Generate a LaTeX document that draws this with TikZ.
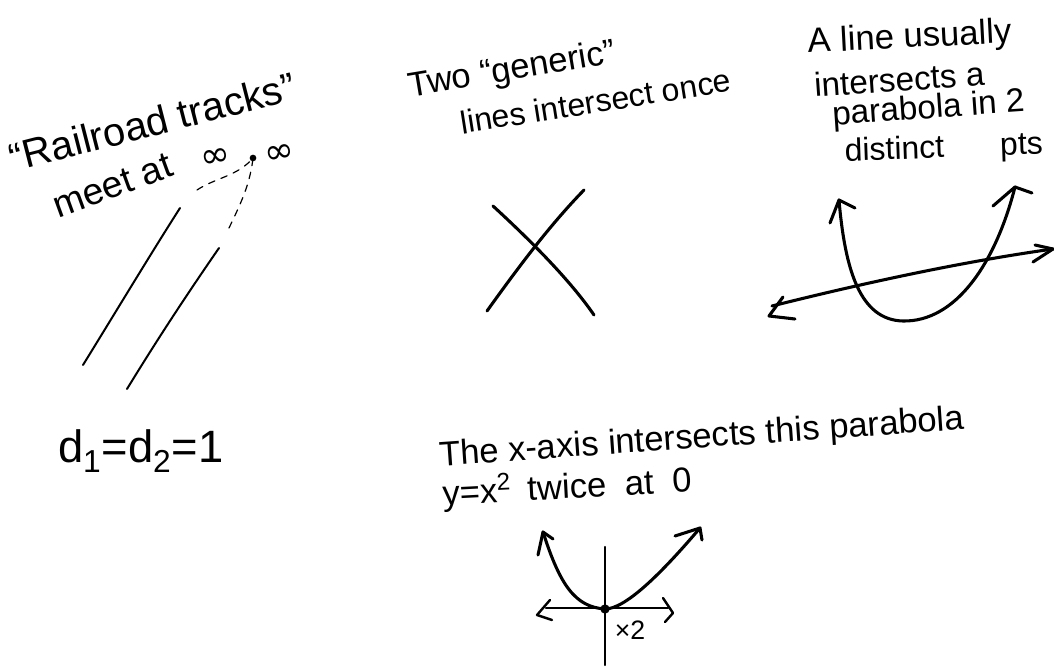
\documentclass[tikz,border=0pt]{standalone}
\usepackage{fontspec}
\setmainfont{Liberation Sans}
\newfontfamily\symfont{DejaVu Sans}
\newcommand\fsz[1]{\fontsize{#1}{#1}\selectfont}
\begin{document}
\begin{tikzpicture}[x=0.75pt,y=-0.75pt,
  hw/.style={line width=1.8pt, line cap=round, line join=round},
  thk/.style={line width=2.3pt, line cap=round, line join=round},
  dsh/.style={line width=0.9pt, dash pattern=on 5pt off 5pt, line cap=round},
  txt/.style={anchor=base west, inner sep=0pt, outer sep=0pt},
  inf/.style={inner sep=0pt, font=\symfont\fsz{27}}]
\useasboundingbox (0,0) rectangle (1054,667);
% ---------- railroad tracks ----------
\node[txt, rotate=14.4, font=\fsz{30}] (t1) at (14,172) {“Railroad tracks”};
\node[txt, rotate=20, font=\fsz{28}] (t2) at (58,218) {meet at};
\node[inf, rotate=10] (i1) at (216,158) {∞};
\node[circle, fill, inner sep=0pt, minimum size=5pt] (pt) at (253,158) {};
\node[inf, rotate=10] (i2) at (280,154) {∞};
\coordinate (a1) at (83,365);  \coordinate (a2) at (180,208);
\coordinate (b1) at (127,389); \coordinate (b2) at (219,248);
\coordinate (da) at (197,190); \coordinate (db) at (229,228);
\draw[hw, line width=1.5pt] (a1) .. controls (120,305) and (150,255) .. (a2);
\draw[hw, line width=1.5pt] (b1) .. controls (160,335) and (190,290) .. (b2);
\draw[dsh] (da) .. controls (215,178) and (238,176) .. (pt.center);
\draw[dsh] (db) .. controls (240,205) and (250,185) .. (pt.center);
\node[txt, font=\fsz{34}] (d) at (58,462) {d\textsubscript{1}=d\textsubscript{2}=1};
% ---------- two generic lines ----------
\node[txt, rotate=9.5, font=\fsz{26}] (t3) at (410,97) {Two “generic”};
\node[txt, rotate=9, font=\fsz{24}] (t4) at (462,134) {lines intersect once};
\coordinate (x1) at (487,311); \coordinate (x2) at (584,190);
\coordinate (y1) at (493,206); \coordinate (y2) at (594,315);
\draw[thk] (x1) .. controls (520,265) and (550,225) .. (x2);
\draw[thk] (y1) .. controls (530,240) and (570,280) .. (y2);
% ---------- line and parabola ----------
\node[txt, rotate=3, font=\fsz{26}] (t5) at (808,53) {A line usually};
\node[txt, rotate=4, font=\fsz{25}] (t6) at (815,97) {intersects a};
\node[txt, rotate=4, font=\fsz{25}] (t7) at (833,125) {parabola in 2};
\node[txt, rotate=2, font=\fsz{24}] (t8) at (845,161) {distinct\hspace{42pt}pts};
\coordinate (l1) at (772,306); \coordinate (l2) at (1053,249);
\draw[thk] (l1) .. controls (860,284) and (960,262) .. (l2);
\draw[thk] (783,297) -- (769,316) -- (795,319);
\draw[thk] (1035,245) -- (l2) -- (1033,262);
\coordinate (p1) at (839,200); \coordinate (pv) at (903,321); \coordinate (p2) at (1015,187);
\draw[thk] (p1) .. controls (845,270) and (860,320) .. (pv) .. controls (955,322) and (995,265) .. (p2);
\draw[thk] (830,223) -- (p1) -- (855,208);
\draw[thk] (993,206) -- (p2) -- (1032,193);
% ---------- x-axis and y = x^2 ----------
\node[txt, rotate=4, font=\fsz{26}] (t9) at (440,466) {The x-axis intersects this parabola};
\node[txt, rotate=3, font=\fsz{26}] (t10) at (443,505) {y=x\textsuperscript{2}\hspace{12pt}twice\hspace{14pt}at\hspace{14pt}0};
\coordinate (v1) at (605,547); \coordinate (v2) at (605,665);
\coordinate (h1) at (546,608); \coordinate (h2) at (668,608);
\draw[hw] (v1) -- (v2);
\draw[hw] (h1) -- (h2);
\draw[hw] (550,600) -- (537,615) -- (552,620);
\draw[hw] (663,598) -- (673,613) -- (665,622);
\coordinate (q1) at (543,532); \coordinate (q0) at (605,609); \coordinate (q2) at (700,528);
\draw[thk] (q1) .. controls (560,585) and (575,607) .. (q0) .. controls (625,609) and (660,575) .. (q2);
\draw[thk] (538,555) -- (q1) -- (553,539);
\draw[thk] (675,536) -- (q2) -- (702,540);
\node[circle, fill, inner sep=0pt, minimum size=7pt] (o) at (q0) {};
\node[inner sep=0pt, font=\fsz{20}] (m2) at (630,630) {×2};
\end{tikzpicture}
\end{document}
